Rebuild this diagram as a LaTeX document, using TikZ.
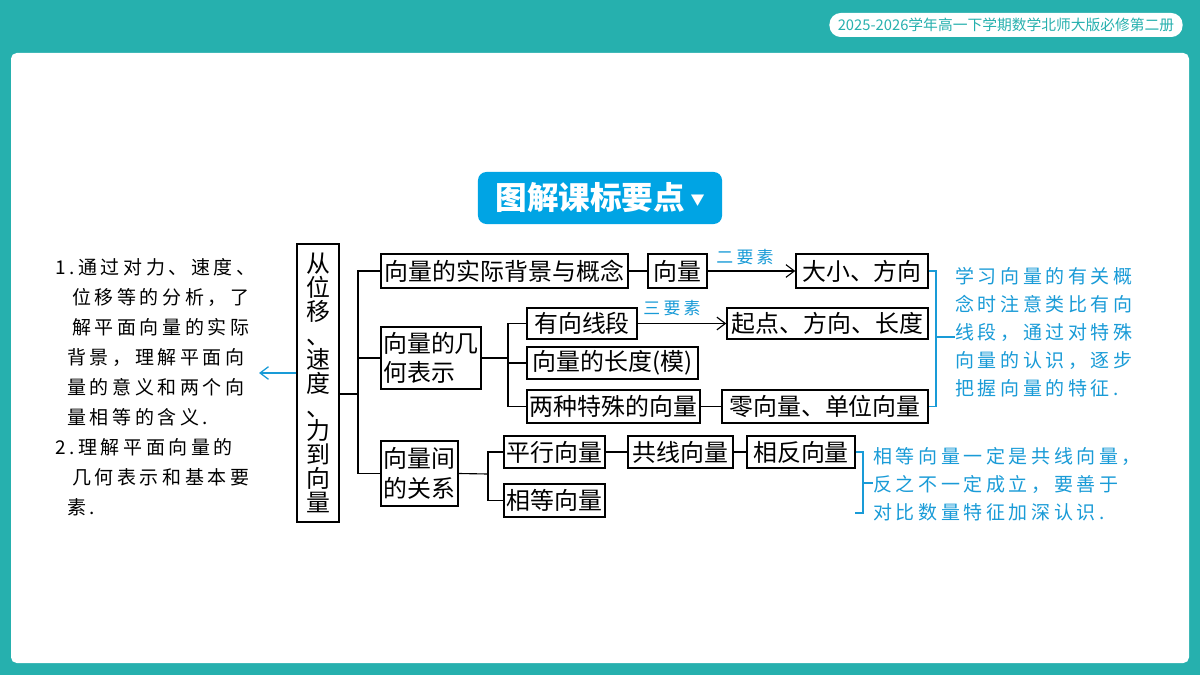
\documentclass[tikz,border=0pt]{standalone}
\usepackage{fontspec}
\setmainfont{Noto Sans CJK SC}
\newfontfamily\handfont[LetterSpace=19]{Noto Sans CJK SC}
\usetikzlibrary{arrows.meta,positioning}
\definecolor{slideteal}{RGB}{38,176,174}
\definecolor{titleblue}{RGB}{0,164,228}
\definecolor{noteblue}{RGB}{25,155,215}

\begin{document}
\begin{tikzpicture}[x=0.025cm, y=-0.025cm,
    box/.style={draw, line width=1pt, inner sep=0pt, font=\fontsize{17}{21}\selectfont},
    link/.style={line width=0.8pt},
    note/.style={draw=noteblue, line width=0.9pt},
    hand/.style={inner sep=0pt, anchor=west, align=left, font=\handfont\fontsize{13.5}{20}\selectfont},
    barb/.style={-{Straight Barb[length=6pt,width=9pt]}}]
    \useasboundingbox (0,0) rectangle (1200,675);
    \fill[slideteal] (0,0) rectangle (1200,675);
    \fill[white, rounded corners=4pt] (11,53) rectangle (1189,663);

    % header and title
    \node[fill=white, rounded corners=8pt, inner xsep=2pt, minimum width=8.825cm, minimum height=0.6cm, text=slideteal, font=\fontsize{10.5}{12}\selectfont] (grade) at (1006,25) {2025-2026学年高一下学期数学北师大版必修第二册};
    \node[fill=titleblue, rounded corners=6pt, minimum width=6.1cm, minimum height=1.3cm, text=white, font=\bfseries\fontsize{22.5}{24}\selectfont] (title) at (600,198) {图解课标要点\,\raisebox{3pt}{\fontsize{10}{10}\selectfont ▼}};

    % main chain
    \node[box, minimum width=1.05cm, minimum height=6.95cm, align=center, font=\fontsize{17}{17}\selectfont] (origin) at (318,383) {从\\位\\移\\、\\速\\度\\、\\力\\到\\向\\量};
    \node[box, minimum width=6.175cm, minimum height=0.85cm] (concept) at (504.5,271) {向量的实际背景与概念};
    \node[box, minimum width=1.475cm, minimum height=0.85cm] (vec) at (677.5,271) {向量};
    \node[box, minimum width=3.3cm, minimum height=0.85cm] (size_dir) at (862,271) {大小、方向};
    \node[box, minimum width=2.5cm, minimum height=1.55cm, align=left] (geom) at (431,358) {向量的几\\何表示};
    \node[box, minimum width=2.75cm, minimum height=0.775cm] (directed_seg) at (582,323.5) {有向线段};
    \node[box, minimum width=5.025cm, minimum height=0.775cm] (three_elem) at (827.5,323.5) {起点、方向、长度};
    \node[box, minimum width=4.275cm, minimum height=0.8cm] (length) at (612.5,363) {向量的长度(模)};
    \node[box, minimum width=4.325cm, minimum height=0.825cm] (special) at (613.5,406.5) {两种特殊的向量};
    \node[box, minimum width=5.15cm, minimum height=0.825cm] (zero_unit) at (825,406.5) {零向量、单位向量};
    \node[box, minimum width=1.925cm, minimum height=1.625cm, align=left] (relation) at (419.5,473.5) {向量间\\的关系};
    \node[box, minimum width=2.525cm, minimum height=0.8cm] (parallel) at (554.5,452) {平行向量};
    \node[box, minimum width=2.625cm, minimum height=0.8cm] (collinear) at (680.5,452) {共线向量};
    \node[box, minimum width=2.7cm, minimum height=0.8cm] (opposite) at (801,452) {相反向量};
    \node[box, minimum width=2.525cm, minimum height=0.825cm] (equal) at (554.5,500.5) {相等向量};

    % notes
    \node[hand, font=\handfont\fontsize{13.5}{21.3}\selectfont] (goals) at (55,387) {1.通过对力、速度、\\
        \hspace*{12pt}位移等的分析，了\\
        \hspace*{12pt}解平面向量的实际\\
        \hspace*{8.5pt}背景，理解平面向\\
        \hspace*{8.5pt}量的意义和两个向\\
        \hspace*{8.5pt}量相等的含义.\\
        2.理解平面向量的\\
        \hspace*{12pt}几何表示和基本要\\
        \hspace*{8.5pt}素.};
    \node[hand, text=noteblue] (note_geom) at (955,332) {学习向量的有关概\\念时注意类比有向\\线段，通过对特殊\\向量的认识，逐步\\把握向量的特征.};
    \node[hand, text=noteblue] (note_rel) at (873,484) {相等向量一定是共线向量，\\反之不一定成立，要善于\\对比数量特征加深认识.};
    \node[text=noteblue, inner sep=0pt, font=\handfont\fontsize{12}{12}\selectfont] (two_tag) at (745,257) {二要素};
    \node[text=noteblue, inner sep=0pt, font=\handfont\fontsize{12}{12}\selectfont] (three_tag) at (672,308) {三要素};

    % junctions
    \coordinate (hub) at (358,394);
    \coordinate (geom_hub) at (508,358);
    \coordinate (rel_hub) at (488,474);
    \coordinate (bracket_a) at (936,337);
    \coordinate (bracket_b) at (863,483);
    \coordinate (bracket_end) at (855,513);
    \coordinate (goal_tip) at (259,373);

    \draw[link] (origin.east |- hub) -- (hub);
    \draw[link] (concept.west) -| (hub);
    \draw[link] (relation.west) -| (hub);
    \draw[link] (geom.west) -- (geom.west -| hub);
    \draw[link] (concept) -- (vec);
    \draw[link, barb] (vec) -- (size_dir);
    \draw[link] (geom.east) -- (geom_hub);
    \draw[link] (directed_seg.west) -| (geom_hub);
    \draw[link] (special.west) -| (geom_hub);
    \draw[link] (length.west) -- (length.west -| geom_hub);
    \draw[link, barb] (directed_seg) -- (three_elem);
    \draw[link] (special) -- (zero_unit);
    \draw[link] (relation.east) -- (rel_hub);
    \draw[link] (parallel.west) -| (rel_hub);
    \draw[link] (equal.west) -| (rel_hub);
    \draw[link] (parallel) -- (collinear);
    \draw[link] (collinear) -- (opposite);

    % blue brackets
    \draw[note] (size_dir.east) -| (bracket_a) |- (zero_unit.east);
    \draw[note] (bracket_a) -- (bracket_a -| note_geom.west);
    \draw[note] (opposite.east) -| (bracket_b) |- (bracket_end);
    \draw[note] (bracket_b) -- (bracket_b -| note_rel.west);
    \draw[note, barb] (origin.west |- goal_tip) -- (goal_tip);
\end{tikzpicture}
\end{document}
